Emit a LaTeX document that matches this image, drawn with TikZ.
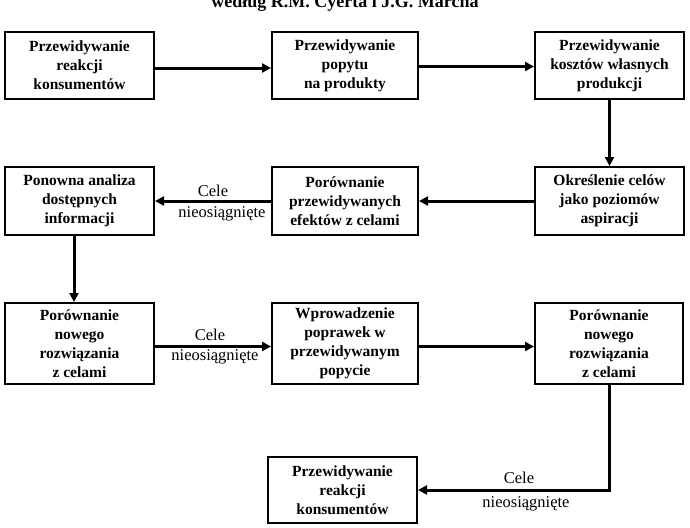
\documentclass[tikz,border=0pt]{standalone}
\usepackage{fontspec}
\setmainfont{Liberation Serif}
\usetikzlibrary{arrows.meta}
\begin{document}
\begin{tikzpicture}[x=1pt,y=-1pt,
  box/.style={draw,line width=2pt,align=center,inner sep=0pt,
    font=\fontsize{15.5}{19}\selectfont\bfseries},
  flow/.style={line width=3pt,-{Triangle[length=9pt,width=9pt]}},
  lbl/.style={font=\fontsize{16.5}{18}\selectfont,inner sep=0pt}]
\useasboundingbox (0,0) rectangle (690,527);
\clip (0,0) rectangle (690,527);
\node[anchor=base,font=\fontsize{18}{20}\selectfont\bfseries] (title) at (345,8) {według R.M. Cyerta i J.G. Marcha};
% row 1
\node[box,minimum width=149pt,minimum height=67pt] (b1) at (79.5,65.5) {Przewidywanie\\reakcji\\konsumentów};
\node[box,minimum width=146pt,minimum height=67pt] (b2) at (345,65.5) {Przewidywanie\\popytu\\na produkty};
\node[box,minimum width=149pt,minimum height=67pt] (b3) at (609.5,65.5) {Przewidywanie\\kosztów własnych\\produkcji};
% row 2
\node[box,minimum width=149pt,minimum height=68pt] (b4) at (79.5,201) {Ponowna analiza\\dostępnych\\informacji};
\node[box,minimum width=146pt,minimum height=68pt] (b5) at (345,201) {Porównanie\\przewidywanych\\efektów z celami};
\node[box,minimum width=149pt,minimum height=68pt] (b6) at (609.5,201) {Określenie celów\\jako poziomów\\aspiracji};
% row 3
\node[box,minimum width=149pt,minimum height=81pt] (b7) at (79.5,343.5) {Porównanie\\nowego\\rozwiązania\\z celami};
\node[box,minimum width=146pt,minimum height=81pt] (b8) at (345,343.5) {Wprowadzenie\\poprawek w\\przewidywanym\\popycie};
\node[box,minimum width=148pt,minimum height=81pt] (b9) at (609,343.5) {Porównanie\\nowego\\rozwiązania\\z celami};
% row 4
\node[box,minimum width=149pt,minimum height=66pt] (b10) at (342.5,490) {Przewidywanie\\reakcji\\konsumentów};
% connectors
\draw[flow] ([yshift=-2.5pt]b1.east) -- ([yshift=-2.5pt]b2.west);
\draw[flow] ([yshift=-1pt]b2.east) -- ([yshift=-1pt]b3.west);
\draw[flow] (b3.south) -- (b6.north);
\draw[flow] (b6.west) -- (b5.east);
\draw[flow] (b5.west) -- (b4.east);
\draw[flow] ([xshift=-5.5pt]b4.south) -- ([xshift=-5.5pt]b7.north);
\draw[flow] ([yshift=-3pt]b7.east) -- ([yshift=-3pt]b8.west);
\draw[flow] ([yshift=-3pt]b8.east) -- ([yshift=-3pt]b9.west);
\draw[flow] (b9.south) |- (b10.east);
% labels
\node[lbl] (l1a) at (213,191) {Cele};
\node[lbl] (l1b) at (222,214) {nieosiągnięte};
\node[lbl] (l2a) at (210,335) {Cele};
\node[lbl] (l2b) at (215,357) {nieosiągnięte};
\node[lbl] (l3a) at (519,478) {Cele};
\node[lbl] (l3b) at (526,504) {nieosiągnięte};
\end{tikzpicture}
\end{document}
